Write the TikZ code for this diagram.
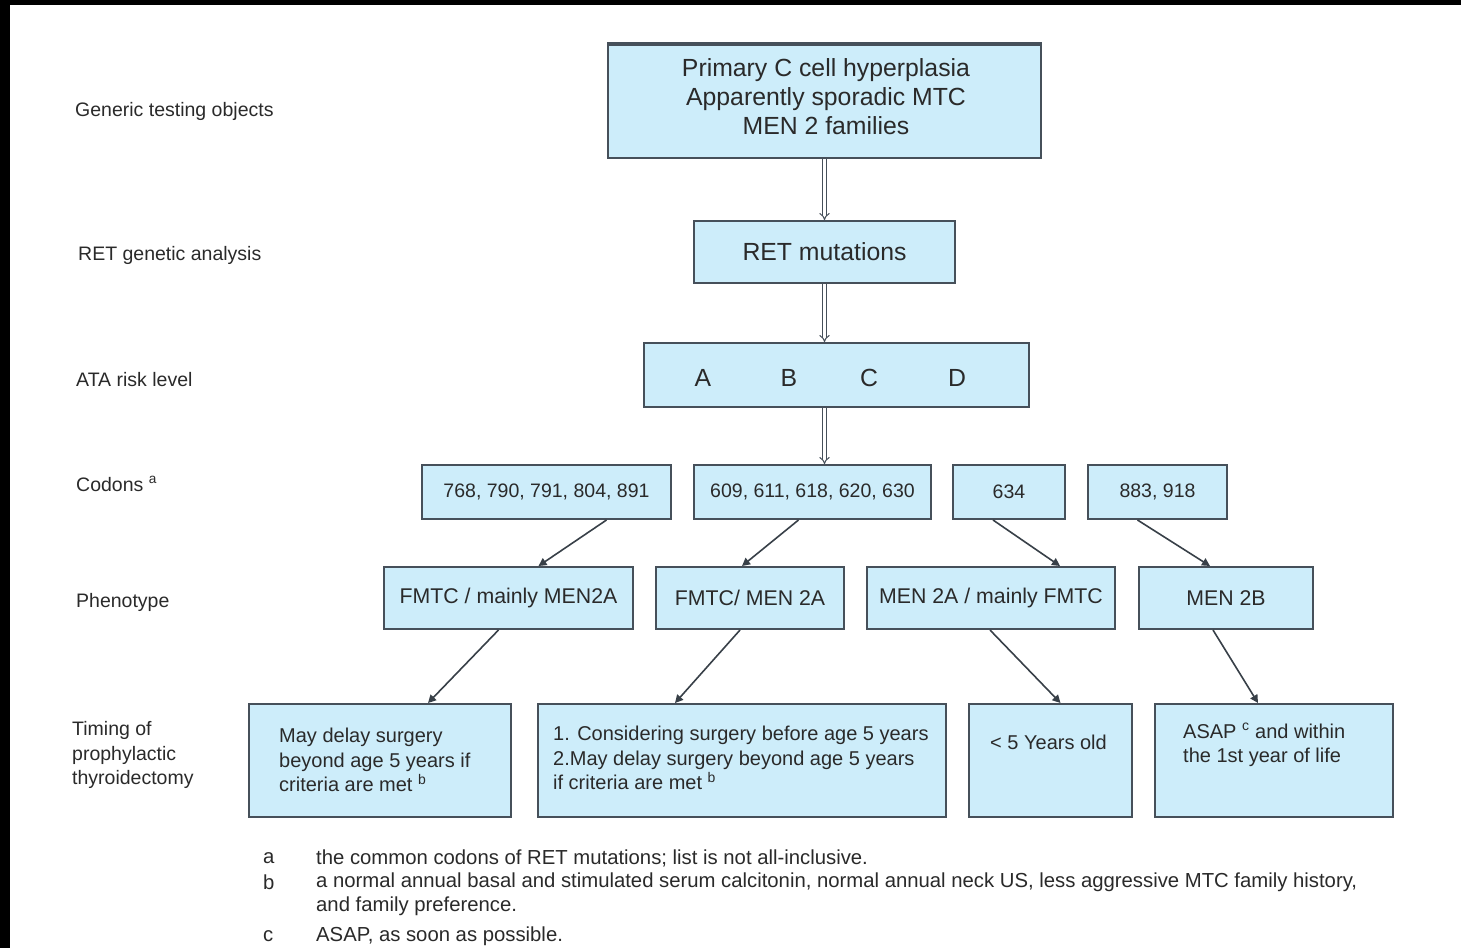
\documentclass[tikz,border=0pt]{standalone}
\usepackage{fontspec}
\setmainfont{Liberation Sans}
\usetikzlibrary{arrows.meta}
\definecolor{boxfill}{HTML}{CDEDFA}
\definecolor{boxline}{HTML}{46505A}
\definecolor{txt}{HTML}{2A2A2A}
\begin{document}
\begin{tikzpicture}[x=1pt,y=-1pt,
  box/.style={draw=boxline, line width=2pt, fill=boxfill, inner sep=0pt, text=txt},
  lbl/.style={anchor=west, inner sep=0pt, text=txt, font=\fontsize{19.5}{24.5}\selectfont, align=left},
  bt/.style={anchor=north west, inner sep=0pt, text=txt, font=\fontsize{20}{24.5}\selectfont, align=left},
  big/.style={text=txt, inner sep=0pt, font=\fontsize{24.8}{29}\selectfont},
  conn/.style={draw=boxline!80!black, line width=1.6pt, -{Triangle[length=8pt,width=8pt]}},
  dconn/.style={draw=boxline, double=white, double distance=2.5pt, line width=1pt, -{Implies}},
]
\useasboundingbox (0,0) rectangle (1461,948);
\fill[white] (0,0) rectangle (1461,948);
\fill[black] (0,0) rectangle (1461,5);
\fill[black] (0,0) rectangle (10,948);

% left labels
\node[lbl] (l1) at (75,111) {Generic testing objects};
\node[lbl] (l2) at (78,255) {RET genetic analysis};
\node[lbl] (l3) at (76,380) {ATA risk level};
\node[lbl] (l4) at (76,484) {Codons \textsuperscript{a}};
\node[lbl] (l5) at (76,602) {Phenotype};
\node[lbl] (l6) at (72,755) {Timing of\\prophylactic\\thyroidectomy};

% top
\node[box, minimum width=433, minimum height=113] (top) at (824.5,101.5) {};
\draw[boxline, line width=4pt] (top.north west) -- (top.north east);
\node[big, align=center] (topt) at (826,97) {Primary C cell hyperplasia\\Apparently sporadic MTC\\MEN 2 families};
\node[box, minimum width=261, minimum height=62, font=\fontsize{24.8}{29}\selectfont] (ret) at (824.5,252) {RET mutations};
\node[box, minimum width=385, minimum height=64] (ata) at (836.5,375) {};
\node[big] (la) at (703,378) {A};
\node[big] (lb) at (789,378) {B};
\node[big] (lc) at (869,378) {C};
\node[big] (ld) at (957,378) {D};

% codons
\begin{scope}[every node/.append style={font=\fontsize{19.5}{23}\selectfont}]
\node[box, minimum width=249, minimum height=54] (c1) at (546.5,492) {768, 790, 791, 804, 891};
\node[box, minimum width=237, minimum height=54] (c2) at (812.5,492) {609, 611, 618, 620, 630};
\node[box, minimum width=112, minimum height=54] (c3) at (1009,492) {634};
\node[box, minimum width=139, minimum height=54] (c4) at (1157.5,492) {883, 918};
\end{scope}

% phenotypes
\begin{scope}[every node/.append style={font=\fontsize{21.3}{25}\selectfont}]
\node[box, minimum width=249, minimum height=62] (p1) at (508.5,598) {FMTC / mainly MEN2A};
\node[box, minimum width=188, minimum height=62] (p2) at (750,598) {FMTC/ MEN 2A};
\node[box, minimum width=248, minimum height=62] (p3) at (991,598) {MEN 2A / mainly FMTC};
\node[box, minimum width=174, minimum height=62] (p4) at (1226,598) {MEN 2B};
\end{scope}

% timing
\node[box, minimum width=262, minimum height=113] (t1) at (380,760.5) {};
\node[box, minimum width=408, minimum height=113] (t2) at (742,760.5) {};
\node[box, minimum width=163, minimum height=113] (t3) at (1050.5,760.5) {};
\node[box, minimum width=238, minimum height=113] (t4) at (1274,760.5) {};
\node[bt] (t1t) at (279,728) {May delay surgery\\beyond age 5 years if\\criteria are met \textsuperscript{b}};
\node[bt] (t2t) at (553,726) {1. Considering surgery before age 5 years\\2.May delay surgery beyond age 5 years\\if criteria are met \textsuperscript{b}};
\node[bt] (t3t) at (990,735) {< 5 Years old};
\node[bt] (t4t) at (1183,723) {ASAP \textsuperscript{c} and within\\the 1st year of life};

% connectors
\draw[dconn] (top.south) -- (ret.north);
\draw[dconn] (ret.south) -- (ret.south |- ata.north);
\draw[dconn] (ata.south -| ret.south) -- (c2.north -| ret.south);
\draw[conn] ([xshift=60]c1.south) -- ([xshift=30]p1.north);
\draw[conn] ([xshift=-14]c2.south) -- ([xshift=-8]p2.north);
\draw[conn] ([xshift=-16]c3.south) -- ([xshift=69]p3.north);
\draw[conn] ([xshift=-20]c4.south) -- ([xshift=-16]p4.north);
\draw[conn] ([xshift=-10]p1.south) -- ([xshift=48]t1.north);
\draw[conn] ([xshift=-10]p2.south) -- ([xshift=-67]t2.north);
\draw[conn] ([xshift=-1]p3.south) -- ([xshift=10]t3.north);
\draw[conn] ([xshift=-13]p4.south) -- ([xshift=-16]t4.north);

% footnotes
\begin{scope}[every node/.append style={anchor=west, inner sep=0pt, text=txt, font=\fontsize{20.3}{24.5}\selectfont}]
\node (fa) at (263,858) {a};
\node (fb) at (263,882) {b};
\node (fc) at (263,936) {c};
\node (fat) at (316,858) {the common codons of RET mutations; list is not all-inclusive.};
\node (fbt) at (316,882) {a normal annual basal and stimulated serum calcitonin, normal annual neck US, less aggressive MTC family history,};
\node (fbt2) at (316,906) {and family preference.};
\node (fct) at (316,936) {ASAP, as soon as possible.};
\end{scope}
\end{tikzpicture}
\end{document}
